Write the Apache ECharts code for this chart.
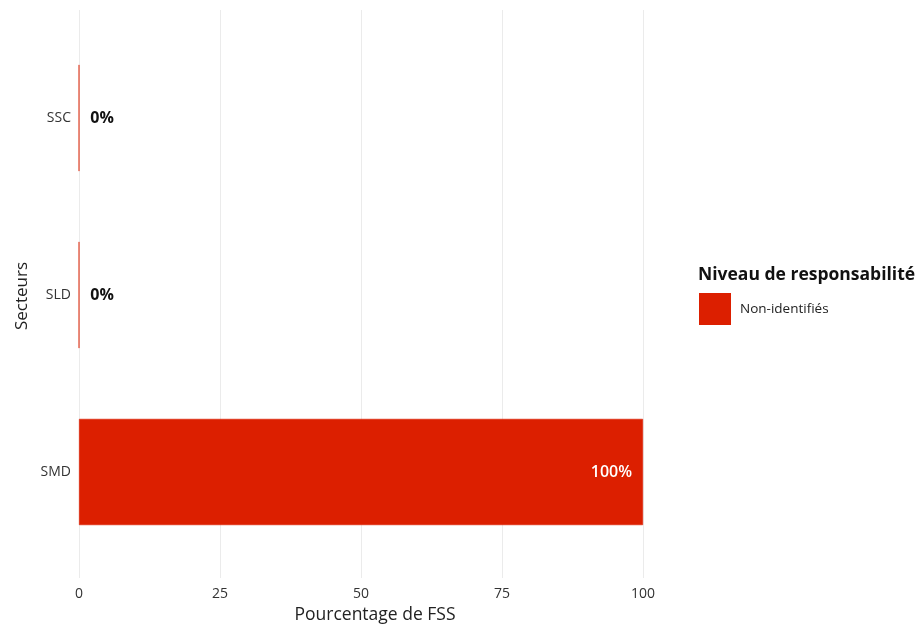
<!DOCTYPE html>
<html><head><meta charset="utf-8">
<script src="https://cdn.jsdelivr.net/npm/echarts@6/dist/echarts.min.js"></script>
<style>html,body{margin:0;padding:0;background:#fff}#c{width:922px;height:627px}</style>
</head><body><div id="c"></div>
<script>
const categories = ['SMD', 'SLD', 'SSC'];
const values = [100, 0, 0];
const xTicks = [0, 25, 50, 75, 100];
const seriesName = 'Non-identifiés';
const legendTitle = 'Niveau de responsabilité';
const xTitle = 'Pourcentage de FSS';
const yTitle = 'Secteurs';

const RED = '#dc1f00';
const FONT = 'Open Sans';
const chart = echarts.init(document.getElementById('c'), null, {renderer: 'canvas'});
chart.setOption({
  backgroundColor: '#fff',
  animation: false,
  textStyle: {fontFamily: FONT},
  title: {
    text: legendTitle, left: 698, top: 266, padding: 0,
    textStyle: {fontFamily: FONT, fontWeight: 'bold', fontSize: 17.5, color: '#111'}
  },
  legend: {
    data: [seriesName], left: 699, top: 293, orient: 'vertical', padding: 0,
    icon: 'rect', itemWidth: 30, itemHeight: 30, itemGap: 10,
    textStyle: {fontFamily: FONT, fontSize: 13.5, color: '#222', padding: [0, 0, 0, 5]}
  },
  grid: [
    {left: 79, right: 279, top: 10, bottom: 49},
    {left: 79, right: 279, top: 29.5, bottom: 66.5}
  ],
  xAxis: [
    {
      type: 'value', gridIndex: 0, min: xTicks[0], max: xTicks[xTicks.length - 1], interval: 25,
      axisLine: {show: false}, axisTick: {show: false},
      axisLabel: {fontFamily: FONT, fontSize: 14, color: '#333', margin: 9},
      splitLine: {show: true, lineStyle: {color: '#ebebeb', width: 1}}
    },
    {
      type: 'value', gridIndex: 1, min: 0, max: 100,
      show: false
    }
  ],
  yAxis: [
    {type: 'value', gridIndex: 0, min: 0, max: 1, show: false},
    {
      type: 'category', gridIndex: 1, data: categories,
      axisLine: {show: false}, axisTick: {show: false},
      axisLabel: {fontFamily: FONT, fontSize: 14, color: '#333', margin: 8},
      splitLine: {show: false}
    }
  ],
  graphic: [{
    type: 'text', rotation: Math.PI / 2,
    style: {text: yTitle, font: '17px "Open Sans"', fill: '#222', textAlign: 'center', textVerticalAlign: 'middle'},
    x: 22, y: 296
  }, {
    type: 'text',
    style: {text: xTitle, font: '17.5px "Open Sans"', fill: '#222', textAlign: 'center', textVerticalAlign: 'middle'},
    x: 375, y: 615
  }],
  series: [{
    name: seriesName, type: 'bar', xAxisIndex: 1, yAxisIndex: 1,
    data: values.map(v => v >= 50
      ? {value: v, label: {position: 'insideRight', distance: 11, color: '#fff', fontWeight: 600}}
      : {value: v}),
    barWidth: '60%',
    itemStyle: {color: RED, borderColor: RED, borderWidth: 0.6},
    label: {
      show: true,
      fontFamily: FONT, fontSize: 16,
      formatter: p => p.value + '%',
      position: 'right', distance: 11, color: '#111', fontWeight: 'bold'
    }
  }]
});
</script></body></html>
